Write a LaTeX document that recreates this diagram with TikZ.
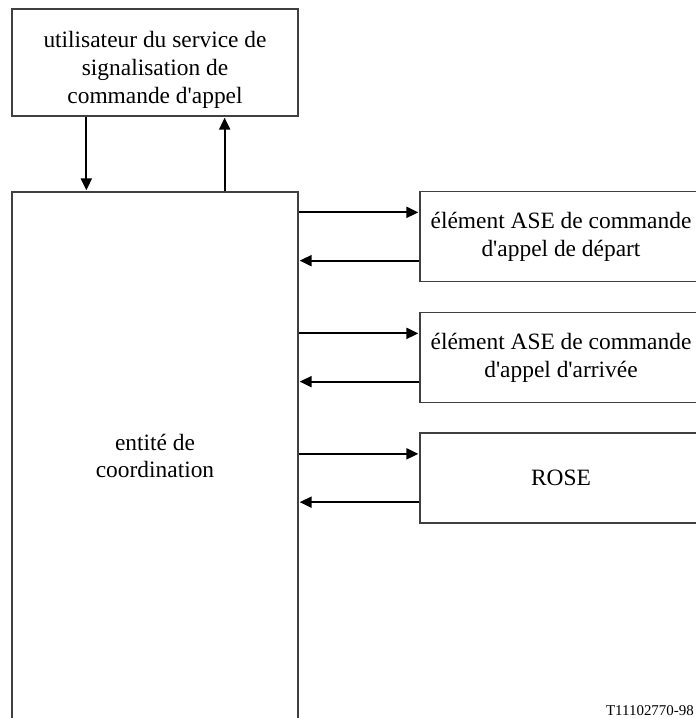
\documentclass[tikz,border=0pt]{standalone}
\usepackage{fontspec}
\setmainfont{Liberation Serif}[Ligatures=TeXOff]
\usetikzlibrary{arrows.meta}
\begin{document}
\begin{tikzpicture}[x=1bp,y=-1bp,
  box/.style={draw=black!75, line width=1.3bp, rectangle, inner sep=0pt},
  lbl/.style={align=center, font=\fontsize{23.5}{28}\selectfont},
  flow/.style={draw=black, line width=2bp,
    -{Triangle[length=12bp,width=11bp]}, shorten >=1bp},
  ref/.style={font=\fontsize{15}{18}\selectfont, anchor=base east, inner sep=0pt}]
  \clip (0,0) rectangle (696,718);
  \fill[white] (0,0) rectangle (696,718);

  % signalling service user
  \node[box, minimum width=286bp, minimum height=107bp] (user) at (155,62.5) {};
  \node[lbl] (usertxt) at (155,70) {utilisateur du service de\\signalisation de\\commande d'appel};

  % coordination entity (runs past the lower edge)
  \node[box, minimum width=286bp, minimum height=530bp] (coord) at (155,457) {};
  \node[lbl] (coordtxt) at (155,456) {entité de\\coordination};

  % ASE boxes on the right
  \node[box, minimum width=282bp, minimum height=90bp, lbl] (ase1) at (561,236.5)
    {élément ASE de commande\\d'appel de départ};
  \node[box, minimum width=282bp, minimum height=90bp, lbl] (ase2) at (561,357.5)
    {élément ASE de commande\\d'appel d'arrivée};
  \node[box, minimum width=282bp, minimum height=90bp, lbl] (rose) at (561,478)
    {ROSE};

  % user <-> coordination
  \coordinate (udown) at ([xshift=75bp]user.south west);
  \coordinate (uup) at ([xshift=-74bp]user.south east);
  \draw[flow] (udown) -- (udown |- coord.north);
  \draw[flow] (uup |- coord.north) -- (uup);

  % coordination <-> right-hand boxes
  \foreach \b in {ase1,ase2,rose}{
    \coordinate (\b in) at ([yshift=-21.5bp]\b.north west);
    \coordinate (\b out) at ([yshift=21.5bp]\b.south west);
    \draw[flow] (coord.east |- \b in) -- (\b in);
    \draw[flow] (\b out) -- (coord.east |- \b out);
  }

  \node[ref] (tag) at (694,715) {T11102770-98};
\end{tikzpicture}
\end{document}
